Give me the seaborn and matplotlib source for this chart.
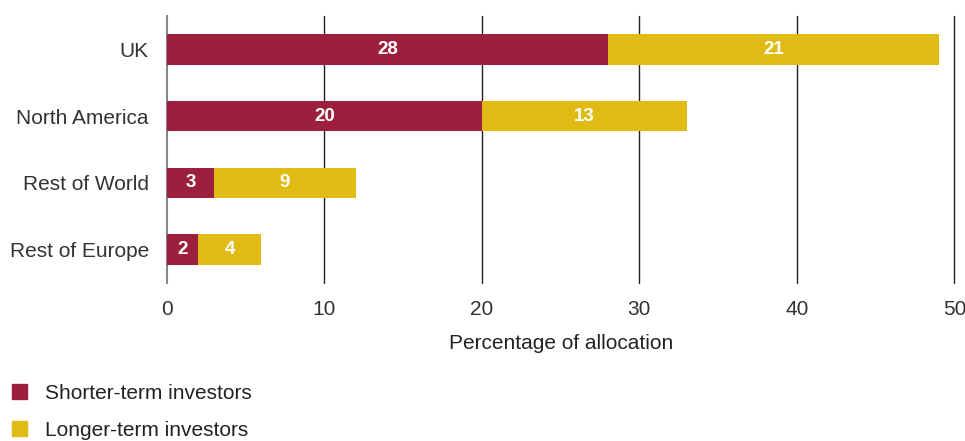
import matplotlib
matplotlib.use("Agg")
import matplotlib.pyplot as plt
from matplotlib.patches import Patch
import seaborn as sns

# data
regions = ["UK", "North America", "Rest of World", "Rest of Europe"]
shorter = [28, 20, 3, 2]
longer = [21, 13, 9, 4]
totals = [s + l for s, l in zip(shorter, longer)]

maroon = "#9c203d"
gold = "#dfbb14"

sns.set_style("white")
plt.rcParams["font.family"] = ["Liberation Sans", "DejaVu Sans"]

fig = plt.figure(figsize=(9.65, 4.41), dpi=100)
ax = fig.add_axes([0.173, 0.358, 0.816, 0.606])

# longer-term stacked behind shorter-term: draw totals then shorter on top
sns.barplot(x=totals, y=regions, color=gold, width=0.46, saturation=1,
            linewidth=0, ax=ax, zorder=3)
sns.barplot(x=shorter, y=regions, color=maroon, width=0.46, saturation=1,
            linewidth=0, ax=ax, zorder=3)

ax.bar_label(ax.containers[1], labels=[str(v) for v in shorter], label_type="center",
             color="white", fontsize=13.5, fontweight="bold")
for i, (s, l) in enumerate(zip(shorter, longer)):
    ax.text(s + l / 2, i, str(l), ha="center", va="center", color="white",
            fontsize=13.5, fontweight="bold", zorder=5)

ax.set_xlim(0, 50)
ax.set_ylim(3.5, -0.5)
ax.set_xticks([0, 10, 20, 30, 40, 50])
for x in [10, 20, 30, 40, 50]:
    ax.axvline(x, color="#222222", lw=1, zorder=1, clip_on=False)

for side in ["top", "right", "bottom"]:
    ax.spines[side].set_visible(False)
ax.spines["left"].set_color("#888888")
ax.spines["left"].set_linewidth(1.5)

ax.tick_params(axis="both", length=0, labelsize=15, labelcolor="#333333")
ax.tick_params(axis="x", pad=12)
ax.tick_params(axis="y", pad=13)
ax.set_ylabel("")
ax.set_xlabel("Percentage of allocation", fontsize=15, color="#222222", labelpad=11)

handles = [Patch(color=maroon), Patch(color=gold)]
fig.legend(handles, ["Shorter-term investors", "Longer-term investors"],
           loc="upper left", bbox_to_anchor=(-0.007, 0.172), frameon=False,
           fontsize=15, handlelength=0.72, handleheight=0.72, handletextpad=0.85,
           labelspacing=0.85, labelcolor="#222222")

fig.savefig("out.png", dpi=100)
